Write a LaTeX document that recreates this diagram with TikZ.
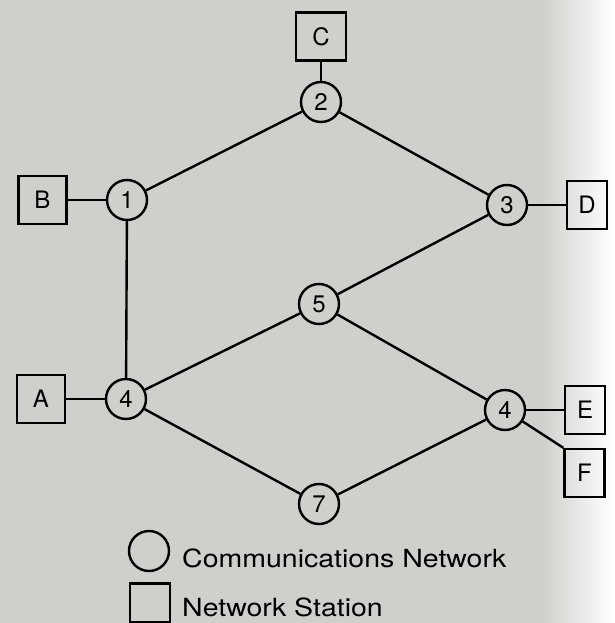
\documentclass[tikz,border=0pt]{standalone}
\usepackage{fontspec}
\setmainfont{TeX Gyre Heros}
\definecolor{paper}{RGB}{206,208,203}
\begin{document}
\begin{tikzpicture}[x=1pt,y=-1pt,
  net/.style={circle,draw,line width=2.4pt,minimum size=40pt,inner sep=0pt,font=\fontsize{24}{24}\selectfont},
  stn/.style={rectangle,draw,line width=2.4pt,minimum width=48pt,minimum height=48pt,inner sep=0pt,font=\fontsize{24}{24}\selectfont},
  stnr/.style={stn,minimum width=40pt},
  link/.style={line width=2.4pt},
  legtext/.style={anchor=base west,inner sep=0pt,font=\fontsize{25}{25}\selectfont}]
\fill[paper] (0,0) rectangle (540,623);
\shade[left color=paper,right color=white] (540,0) rectangle (614,623);
\useasboundingbox (0,0) rectangle (614,623);
% communications network nodes
\node[net] (n2) at (321,102) {2};
\node[net] (n1) at (127,200) {1};
\node[net] (n3) at (507,205) {3};
\node[net] (n5) at (319,304) {5};
\node[net] (n4a) at (126,399) {4};
\node[net] (n4b) at (505,410) {4};
\node[net] (n7) at (319,504) {7};
% stations
\node[stn,minimum width=50pt] (C) at (321,36.5) {C};
\node[stn] (B) at (42.5,200) {B};
\node[stnr] (D) at (587,205) {D};
\node[stn] (A) at (41,399) {A};
\node[stnr] (E) at (585,410) {E};
\node[stnr] (F) at (584.5,473) {F};
% links
\draw[link] (C) -- (n2);
\draw[link] (B) -- (n1);
\draw[link] (n1) -- (n2);
\draw[link] (n2) -- (n3);
\draw[link] (n3) -- (D);
\draw[link] (n3) -- (n5);
\draw[link] (n1) -- (n4a);
\draw[link] (A) -- (n4a);
\draw[link] (n4a) -- (n5);
\draw[link] (n4a) -- (n7);
\draw[link] (n5) -- (n4b);
\draw[link] (n7) -- (n4b);
\draw[link] (n4b) -- (E);
\draw[link] (n4b) -- (F.north west);
% legend
\node[net] (lc) at (149,551) {};
\node[stn,minimum width=40pt,minimum height=39pt] (ls) at (150,603) {};
\node[legtext] (lt1) at (182,567) {\scalebox{1.14}[1]{Communications Network}};
\node[legtext] (lt2) at (182,616) {\scalebox{1.14}[1]{Network Station}};
\end{tikzpicture}
\end{document}
